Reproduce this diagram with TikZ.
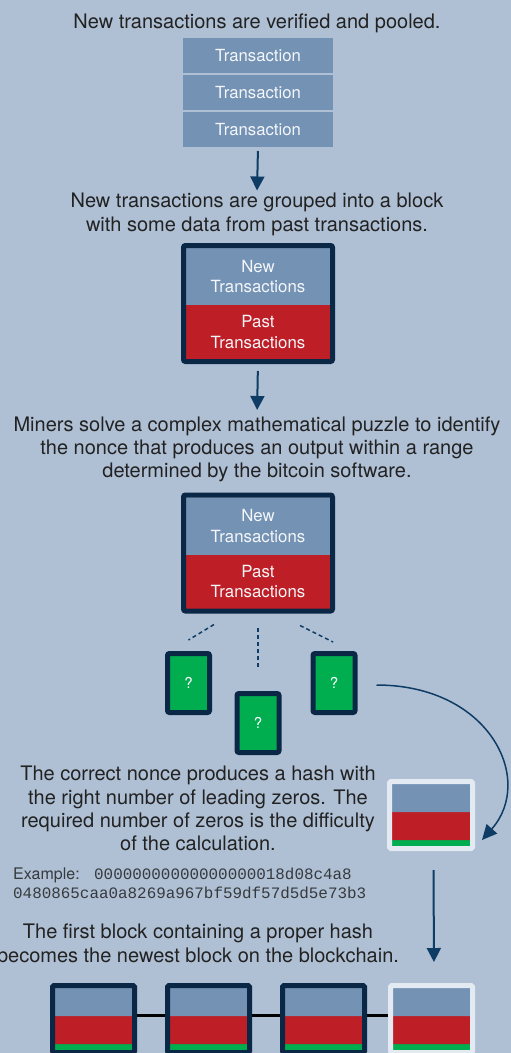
\documentclass[tikz,border=0pt]{standalone}
\usepackage{fontspec}
\setmainfont{TeX Gyre Heros}
\setmonofont{Liberation Mono}
\usetikzlibrary{arrows.meta,positioning,fit,calc}
\definecolor{bgblue}{HTML}{AFC0D5}
\definecolor{txblue}{HTML}{7392B4}
\definecolor{pastred}{HTML}{BE1E26}
\definecolor{hashgreen}{HTML}{00AE50}
\definecolor{navy}{HTML}{0B2746}
\definecolor{arrowblue}{HTML}{0F3C64}
\definecolor{paleedge}{HTML}{E4EAF2}
\definecolor{inktext}{HTML}{222222}

\begin{document}
\begin{tikzpicture}[x=1pt, y=-1pt,
 caption/.style={align=center, inner sep=0pt, anchor=north, text=inktext, font=\fontsize{20}{23.3}\selectfont},
 txbox/.style={fill=txblue, minimum width=150pt, minimum height=35pt, inner sep=0pt, outer sep=0pt,
                text=white!92!txblue, font=\fontsize{16.7}{20}\selectfont},
 half/.style={minimum width=144pt, inner sep=0pt, outer sep=0pt, align=center,
              text=white!92!txblue, font=\fontsize{16.8}{20.5}\selectfont},
 newhalf/.style={half, fill=txblue, minimum height=57pt},
 pasthalf/.style={half, fill=pastred, minimum height=54pt},
 blkframe/.style={draw=navy, line width=5pt, rounded corners=2pt, inner sep=2.5pt, outer sep=0pt},
 nonce/.style={draw=navy, fill=hashgreen, line width=5pt, rounded corners=2pt, minimum width=42pt,
               minimum height=59pt, outer sep=0pt, text=white, font=\fontsize{15}{17}\selectfont},
 mini/.style={line width=5pt, rounded corners=1.5pt, minimum width=82pt, minimum height=67pt,
              outer sep=0pt, inner sep=0pt,
   path picture={
     \fill[hashgreen] (path picture bounding box.north west) rectangle (path picture bounding box.south east);
     \fill[pastred] (path picture bounding box.north west) rectangle ($(path picture bounding box.north east)+(0,58.5)$);
     \fill[txblue] (path picture bounding box.north west) rectangle ($(path picture bounding box.north east)+(0,30.5)$);}},
 oldblk/.style={mini, draw=navy},
 newblk/.style={mini, draw=paleedge},
 ar/.style={-{Triangle[length=14pt,width=14pt]}, arrowblue, line width=2pt},
 curvear/.style={-{Triangle[length=15pt,width=14pt]}, arrowblue, line width=1.5pt},
 dashline/.style={arrowblue, line width=1.5pt, dash pattern=on 4pt off 3pt},
 link/.style={black, line width=3pt},
]
 \useasboundingbox (0,0) rectangle (511,1053);
 \fill[bgblue] (0,0) rectangle (511,1053);

 % pooled transactions
 \node[caption] (pooled) at (257,14) {New transactions are verified and pooled.};
 \node[txbox] (tx1) at (258,55.5) {Transaction};
 \node[txbox, below=2pt of tx1] (tx2) {Transaction};
 \node[txbox, below=2pt of tx2] (tx3) {Transaction};

 % grouped into a block
 \node[caption] (grouped) at (257,193) {New transactions are grouped into a block\\with some data from past transactions.};
 \node[newhalf] (new1) at (258,276.5) {New\\Transactions};
 \node[pasthalf, below=0pt of new1] (past1) {Past\\Transactions};
 \node[blkframe, fit=(new1)(past1)] (blk1) {};

 % mining
 \node[caption] (puzzle) at (257,416.5) {Miners solve a complex mathematical puzzle to identify\\the nonce that produces an output within a range\\determined by the bitcoin software.};
 \node[newhalf] (new2) at (258,526) {New\\Transactions};
 \node[pasthalf, below=0pt of new2] (past2) {Past\\Transactions};
 \node[blkframe, fit=(new2)(past2)] (blk2) {};

 \node[nonce] (g1) at (188.5,683) {?};
 \node[nonce] (g2) at (258,723) {?};
 \node[nonce] (g3) at (334,683) {?};

 % correct hash
 \node[caption] (zeros) at (198,766) {The correct nonce produces a hash with\\the right number of leading zeros. The\\required number of zeros is the difficulty\\of the calculation.};
 \node[newblk, minimum width=83pt] (hb) at (431,815) {};
 \node[anchor=north west, inner sep=0pt, align=left, text=inktext!85!bgblue,
       font=\fontsize{16}{19}\selectfont] (example) at (13,868)
   {\makebox[81pt][l]{Example:}{\ttfamily\fontsize{15.9}{19}\selectfont 00000000000000000018d08c4a8}\\
    {\ttfamily\fontsize{15.9}{19}\selectfont 0480865caa0a8269a967bf59df57d5d5e73b3}};

 % blockchain
 \node[caption] (newest) at (198,924) {The first block containing a proper hash\\becomes the newest block on the blockchain.};
 \foreach \n/\x in {c1/93.5, c2/208.5, c3/323.5}
   \node[oldblk] (\n) at (\x,1019) {};
 \node[newblk] (c4) at (431.5,1019) {};

 \draw[ar, shorten <=4pt, shorten >=2.5pt] (tx3.south) -- (grouped.north);
 \draw[ar, shorten <=9.5pt, shorten >=6.5pt] (blk1.south) -- (puzzle.north);
 \draw[dashline] ($(blk2.south)+(-44,13.5)$) -- ($(g1.north)+(0,-13.5)$);
 \draw[dashline] ($(blk2.south)+(0,16.5)$) -- ($(g2.north)+(0,-25.5)$);
 \draw[dashline] ($(blk2.south)+(42,14.5)$) -- ($(g3.north)+(-1,-11.5)$);
 \draw[curvear] ($(g3.east)+(21.5,2)$) .. controls (490,685) and (535,780) .. ($(hb.east)+(9.5,25)$);
 \draw[ar, shorten <=21.5pt, shorten >=23.5pt] ([xshift=2.5pt]hb.south) -- ([xshift=2.5pt]c4.north);
 \draw[link, shorten <=2.5pt, shorten >=2.5pt] ([yshift=4pt]c1.east) -- ([yshift=4pt]c2.west);
 \draw[link, shorten <=2.5pt, shorten >=2.5pt] ([yshift=4pt]c2.east) -- ([yshift=4pt]c3.west);
 \draw[link, shorten <=2.5pt, shorten >=2.5pt] ([yshift=4pt]c3.east) -- ([yshift=4pt]c4.west);
\end{tikzpicture}
\end{document}
